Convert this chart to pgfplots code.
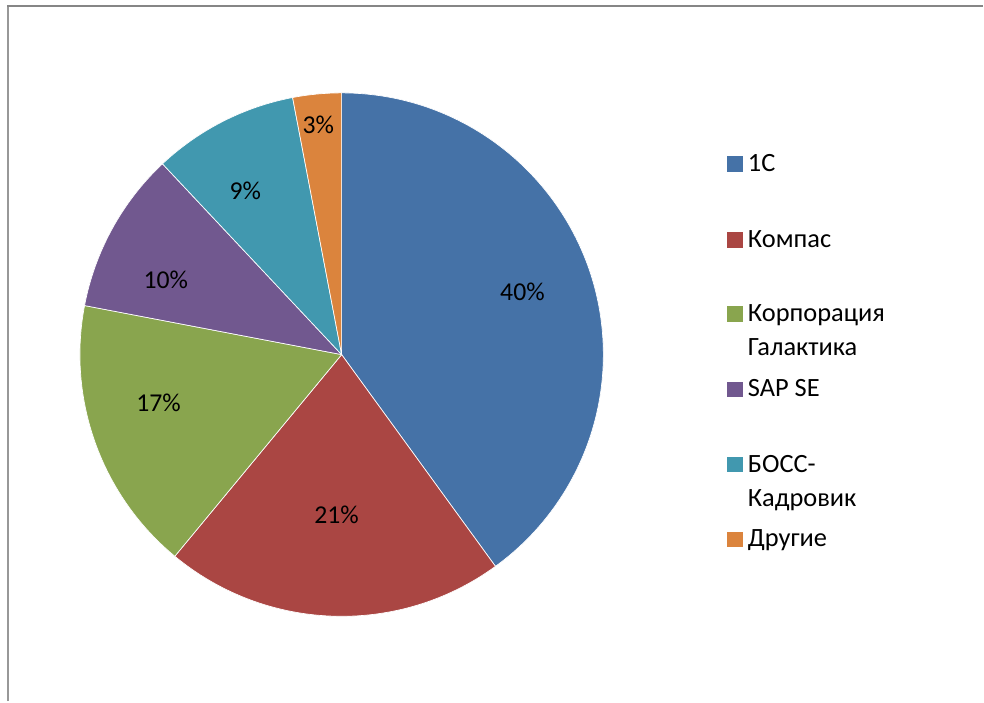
\documentclass[border=0pt]{standalone}
\usepackage{fontspec}
\setmainfont{Carlito}
\usepackage{pgfplots}
\pgfplotsset{compat=1.18}
\definecolor{cA}{HTML}{4572A7}
\definecolor{cB}{HTML}{AA4643}
\definecolor{cC}{HTML}{89A54E}
\definecolor{cD}{HTML}{71588F}
\definecolor{cE}{HTML}{4198AF}
\definecolor{cF}{HTML}{DB843D}
\definecolor{frameT}{HTML}{868686}
\definecolor{frameL}{HTML}{989898}
% shares in percent
\def\vA{40}\def\vB{21}\def\vC{17}\def\vD{10}\def\vE{9}\def\vF{3}
\pgfmathsetmacro\aA{90}
\pgfmathsetmacro\aB{\aA-\vA*3.6}
\pgfmathsetmacro\aC{\aB-\vB*3.6}
\pgfmathsetmacro\aD{\aC-\vC*3.6}
\pgfmathsetmacro\aE{\aD-\vD*3.6}
\pgfmathsetmacro\aF{\aE-\vE*3.6}
\pgfmathsetmacro\aG{\aF-\vF*3.6}
\def\R{196.5pt}
\newcommand\lf{\fontsize{19.3}{22}\selectfont}
\newcommand\gf{\fontsize{19.8}{23}\selectfont}
\begin{document}
\begin{tikzpicture}
\begin{axis}[width=738pt,height=526.5pt,scale only axis,
  xmin=0,xmax=984,ymin=0,ymax=702,hide axis,clip=false]
\path (axis cs:0,0) rectangle (axis cs:984,702);
% frame
\draw[frameL, line width=1.6pt] (axis cs:8.3,0) -- (axis cs:8.3,696);
\draw[frameT, line width=1.6pt] (axis cs:7.5,696) -- (axis cs:984,696);
% slices
\addplot[fill=cA, draw=white, line width=0.5pt] coordinates {(342,347)} -- ++(\aA:\R) arc[start angle=\aA, end angle=\aB, radius=\R] -- cycle;
\addplot[fill=cB, draw=white, line width=0.5pt] coordinates {(342,347)} -- ++(\aB:\R) arc[start angle=\aB, end angle=\aC, radius=\R] -- cycle;
\addplot[fill=cC, draw=white, line width=0.5pt] coordinates {(342,347)} -- ++(\aC:\R) arc[start angle=\aC, end angle=\aD, radius=\R] -- cycle;
\addplot[fill=cD, draw=white, line width=0.5pt] coordinates {(342,347)} -- ++(\aD:\R) arc[start angle=\aD, end angle=\aE, radius=\R] -- cycle;
\addplot[fill=cE, draw=white, line width=0.5pt] coordinates {(342,347)} -- ++(\aE:\R) arc[start angle=\aE, end angle=\aF, radius=\R] -- cycle;
\addplot[fill=cF, draw=white, line width=0.5pt] coordinates {(342,347)} -- ++(\aF:\R) arc[start angle=\aF, end angle=\aG, radius=\R] -- cycle;
% data labels
\node[anchor=base, font=\lf] at (axis cs:523,401.3) {40\%};
\node[anchor=base, font=\lf] at (axis cs:337,178.3) {21\%};
\node[anchor=base, font=\lf] at (axis cs:158.7,289.7) {17\%};
\node[anchor=base, font=\lf] at (axis cs:166,413) {10\%};
\node[anchor=base, font=\lf] at (axis cs:245.5,502.7) {9\%};
\node[anchor=base, font=\lf] at (axis cs:318.7,568.7) {3\%};
% legend
\addplot[cA, only marks, mark=square*, mark size=5.45pt, mark options={draw=none, fill=cA}] coordinates {(735.3,538.2)};
\addplot[cB, only marks, mark=square*, mark size=5.45pt, mark options={draw=none, fill=cB}] coordinates {(735.3,462)};
\addplot[cC, only marks, mark=square*, mark size=5.45pt, mark options={draw=none, fill=cC}] coordinates {(735.3,387.8)};
\addplot[cD, only marks, mark=square*, mark size=5.45pt, mark options={draw=none, fill=cD}] coordinates {(735.3,312.3)};
\addplot[cE, only marks, mark=square*, mark size=5.45pt, mark options={draw=none, fill=cE}] coordinates {(735.3,237)};
\addplot[cF, only marks, mark=square*, mark size=5.45pt, mark options={draw=none, fill=cF}] coordinates {(735.3,162.3)};
\node[anchor=base west, inner sep=0pt, font=\gf] at (axis cs:748.5,530.5) {1С};
\node[anchor=base west, inner sep=0pt, font=\gf] at (axis cs:748.5,454.7) {Компас};
\node[anchor=base west, inner sep=0pt, font=\gf] at (axis cs:748.5,380.3) {Корпорация};
\node[anchor=base west, inner sep=0pt, font=\gf] at (axis cs:748.5,346.3) {Галактика};
\node[anchor=base west, inner sep=0pt, font=\gf] at (axis cs:748.5,305) {SAP SE};
\node[anchor=base west, inner sep=0pt, font=\gf] at (axis cs:748.5,229.3) {БОСС-};
\node[anchor=base west, inner sep=0pt, font=\gf] at (axis cs:748.5,195.3) {Кадровик};
\node[anchor=base west, inner sep=0pt, font=\gf] at (axis cs:748.5,155.3) {Другие};
\end{axis}
\end{tikzpicture}
\end{document}
